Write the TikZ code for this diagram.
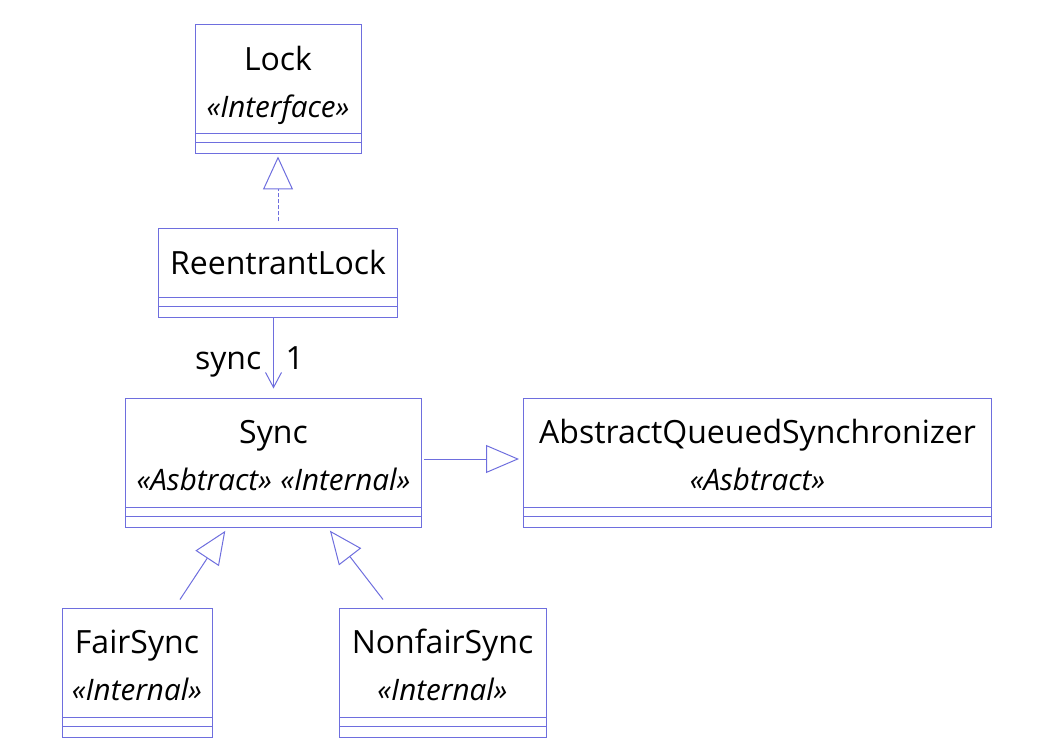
\documentclass[tikz,border=0pt]{standalone}
\usepackage{fontspec}
\setmainfont{Open Sans}
\usepackage{tikz}
\usetikzlibrary{arrows.meta, positioning}
\definecolor{umlblue}{RGB}{110,110,222}
\newcommand{\stereo}[1]{{\fontsize{14.8}{14.8}\selectfont\itshape «#1»}}
\tikzset{
    umlline/.style={draw=umlblue, line width=0.5pt},
    classbox/.style={rectangle, umlline, fill=white, align=center, inner sep=0pt, text=black,
        path picture={\draw[umlline] ([yshift=10pt]path picture bounding box.south west) -- ([yshift=10pt]path picture bounding box.south east)
            ([yshift=5.5pt]path picture bounding box.south west) -- ([yshift=5.5pt]path picture bounding box.south east);}},
    oneline/.style={classbox, text height=12pt, text depth=11.1pt},
    twoline/.style={classbox, text height=40pt, text depth=12.1pt},
    rolelabel/.style={text height=12pt, text depth=4pt},
    realize/.style={umlline, dash pattern=on 2pt off 1pt, -{Triangle[open, length=16.5pt, width=15pt]}},
    extends/.style={umlline, -{Triangle[open, length=16.5pt, width=14pt]}},
    assoc/.style={umlline, -{Straight Barb[length=7.5pt, width=8pt]}}
}
\begin{document}
\begin{tikzpicture}[node distance=1cm, font=\fontsize{16}{23.5}\selectfont]
    \useasboundingbox (0,0) rectangle (522pt,-371.5pt);
    \node (lock) [twoline, minimum width=83pt, minimum height=64.5pt] at (139pt,-44.75pt) {Lock\\\stereo{Interface}};
    \node (reentrant) [oneline, minimum width=119.5pt, minimum height=44.5pt, below=37pt of lock] {ReentrantLock};
    \node (sync) [twoline, minimum width=148pt, minimum height=64.5pt, below=39.5pt of reentrant, xshift=-2.25pt] {Sync\\\stereo{Asbtract} \stereo{Internal}};
    \node (aqs) [twoline, minimum width=234pt, minimum height=64.5pt, right=50.5pt of sync] {AbstractQueuedSynchronizer\\\stereo{Asbtract}};
    \node (fairsync) [twoline, minimum width=75pt, minimum height=64.5pt, below=40pt of sync.south west, xshift=6pt] {FairSync\\\stereo{Internal}};
    \node (nonfairsync) [twoline, minimum width=103.5pt, minimum height=64.5pt, below=40pt of sync.south east, xshift=10.25pt] {NonfairSync\\\stereo{Internal}};

    \draw [realize, shorten <=3.5pt, shorten >=1pt] (reentrant) -- (lock);
    \draw [assoc, shorten >=4.5pt] (reentrant.south -| sync.north) -- (sync.north)
        node [rolelabel, pos=0.55, left=2.5pt] (synclabel) {sync}
        node [rolelabel, pos=0.55, right=2.5pt] (multlabel) {1};
    \draw [extends, shorten <=1pt, shorten >=2pt] ([yshift=1.75pt]sync.east) -- ([yshift=1.75pt]aqs.west);
    \draw [extends, shorten >=2pt] ([xshift=21.5pt, yshift=4pt]fairsync.north) -- ([xshift=-23pt]sync.south);
    \draw [extends, shorten >=2pt] ([xshift=-29.75pt, yshift=4pt]nonfairsync.north) -- ([xshift=27pt]sync.south);
\end{tikzpicture}
\end{document}
